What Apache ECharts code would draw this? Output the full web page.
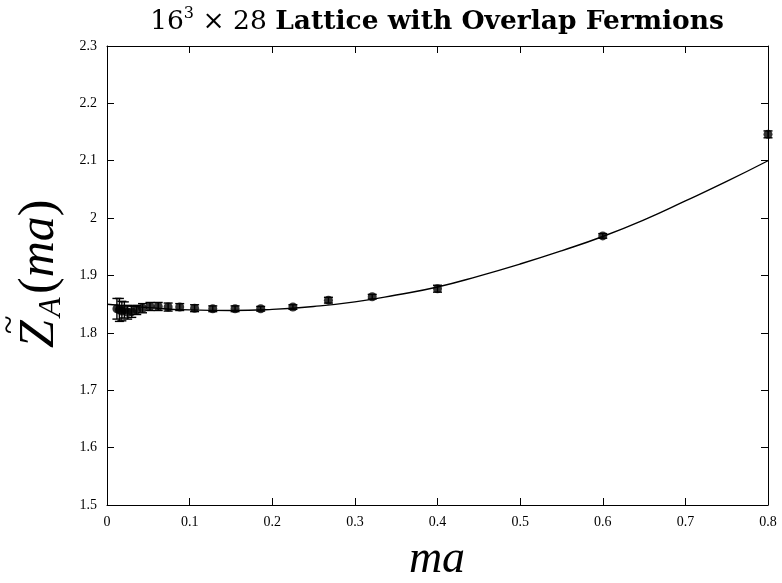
<!DOCTYPE html>
<html>
<head>
<meta charset="utf-8">
<script src="https://cdn.jsdelivr.net/npm/echarts@6/dist/echarts.min.js"></script>
<style>
html,body{margin:0;padding:0;background:#fff;}
#c{width:782px;height:583px;}
</style>
</head>
<body>
<div id="c"></div>
<script>
// measured data points (ma, Z_A, error)
const maValues = [0.012,0.015,0.018,0.021,0.025,0.030,0.036,0.043,0.052,0.062,0.074,0.088,0.106,0.128,0.155,0.186,0.225,0.268,0.321,0.400,0.600,0.800];
const zaValues = [1.842,1.840,1.838,1.840,1.836,1.837,1.840,1.843,1.846,1.846,1.845,1.845,1.843,1.842,1.842,1.842,1.845,1.857,1.863,1.877,1.969,2.146];
const zaErrors = [0.018,0.020,0.017,0.014,0.012,0.010,0.008,0.008,0.007,0.007,0.007,0.006,0.006,0.005,0.005,0.004,0.004,0.005,0.004,0.006,0.004,0.006];
// fit curve
const fitX = [0,0.05,0.1,0.15,0.2,0.25,0.3,0.35,0.4,0.45,0.5,0.55,0.6,0.65,0.7,0.75,0.8];
const fitY = [1.850,1.844,1.840,1.839,1.841,1.846,1.854,1.866,1.880,1.899,1.920,1.943,1.968,1.997,2.030,2.064,2.100];
// axis ranges
const xRange = [0, 0.8, 0.1];
const yRange = [1.5, 2.3, 0.1];

const serif = '"Liberation Serif", "DejaVu Serif", serif';
const titleFont = '"DejaVu Serif", serif';
const chart = echarts.init(document.getElementById('c'), null, {renderer:'canvas'});

const axisCommon = {
  type:'value',
  axisLine:{show:true, onZero:false, lineStyle:{color:'#000', width:1}},
  axisTick:{show:true, inside:true, length:7, lineStyle:{color:'#000', width:1}},
  splitLine:{show:false}
};

const points = maValues.map((m,i)=>[m, zaValues[i], zaErrors[i]]);
const fitData = fitX.map((m,i)=>[m, fitY[i]]);

chart.setOption({
  animation:false,
  backgroundColor:'#fff',
  grid:{left:107, right:14, top:46, bottom:78, containLabel:false},
  xAxis:[
    Object.assign({}, axisCommon, {position:'bottom', min:xRange[0], max:xRange[1], interval:xRange[2],
      axisLabel:{show:true, color:'#000', fontFamily:serif, fontSize:14, margin:10}}),
    Object.assign({}, axisCommon, {position:'top', min:xRange[0], max:xRange[1], interval:xRange[2],
      axisLabel:{show:false}})
  ],
  yAxis:[
    Object.assign({}, axisCommon, {position:'left', min:yRange[0], max:yRange[1], interval:yRange[2],
      axisLabel:{show:true, color:'#000', fontFamily:serif, fontSize:14, margin:10}}),
    Object.assign({}, axisCommon, {position:'right', min:yRange[0], max:yRange[1], interval:yRange[2],
      axisLabel:{show:false}})
  ],
  series:[
    {
      type:'line', data:fitData, smooth:true, showSymbol:false, symbol:'none',
      lineStyle:{color:'#000', width:1.4}, z:2
    },
    {
      type:'custom', data:points, z:3,
      renderItem:function(params, api){
        const x = api.value(0), y = api.value(1), e = api.value(2);
        const top = api.coord([x, y+e]);
        const bot = api.coord([x, y-e]);
        const hw = 4.5;
        const st = {stroke:'#000', lineWidth:1.4};
        return {type:'group', children:[
          {type:'line', shape:{x1:top[0], y1:top[1], x2:bot[0], y2:bot[1]}, style:st},
          {type:'line', shape:{x1:top[0]-hw, y1:top[1], x2:top[0]+hw, y2:top[1]}, style:st},
          {type:'line', shape:{x1:bot[0]-hw, y1:bot[1], x2:bot[0]+hw, y2:bot[1]}, style:st}
        ]};
      },
      encode:{x:0, y:1}
    },
    {
      type:'scatter', data:points.map(p=>[p[0],p[1]]), symbol:'circle', symbolSize:9,
      itemStyle:{color:'#000'}, z:4
    }
  ],
  graphic:[
    {
      type:'text', x:437, y:21,
      style:{
        text:'{n|16}{s|3}{n| × 28 }{b|Lattice with Overlap Fermions}',
        align:'center', verticalAlign:'middle',
        rich:{
          n:{fontFamily:titleFont, fontSize:26.5, fill:'#000', verticalAlign:'bottom', lineHeight:30},
          s:{fontFamily:titleFont, fontSize:16, fill:'#000', verticalAlign:'top', lineHeight:17},
          b:{fontFamily:titleFont, fontSize:26.5, fontWeight:'bold', fill:'#000', verticalAlign:'bottom', lineHeight:30}
        }
      }
    },
    {
      type:'text', x:437, y:560,
      style:{text:'ma', font:'italic 46px "Liberation Serif", serif', fill:'#000', align:'center', verticalAlign:'middle'}
    },
    {
      type:'group', x:40, y:348, rotation:Math.PI/2,
      children:[
        {type:'text', x:0, y:0, style:{text:'Z', font:'italic 50px "Liberation Serif", serif', fill:'#000', align:'left', verticalAlign:'middle'}},
        {type:'text', x:14, y:-30, style:{text:'~', font:'34px "Liberation Serif", serif', fill:'#000', align:'left', verticalAlign:'middle'}},
        {type:'text', x:31, y:12, style:{text:'A', font:'italic 32px "Liberation Serif", serif', fill:'#000', align:'left', verticalAlign:'middle'}},
        {type:'text', x:54, y:0, style:{
          text:'{r|(}{i|ma}{r|)}',
          rich:{
            r:{fontFamily:serif, fontSize:50, fill:'#000'},
            i:{fontFamily:serif, fontSize:50, fontStyle:'italic', fill:'#000'}
          },
          align:'left', verticalAlign:'middle'}}
      ]
    }
  ]
});
</script>
</body>
</html>
